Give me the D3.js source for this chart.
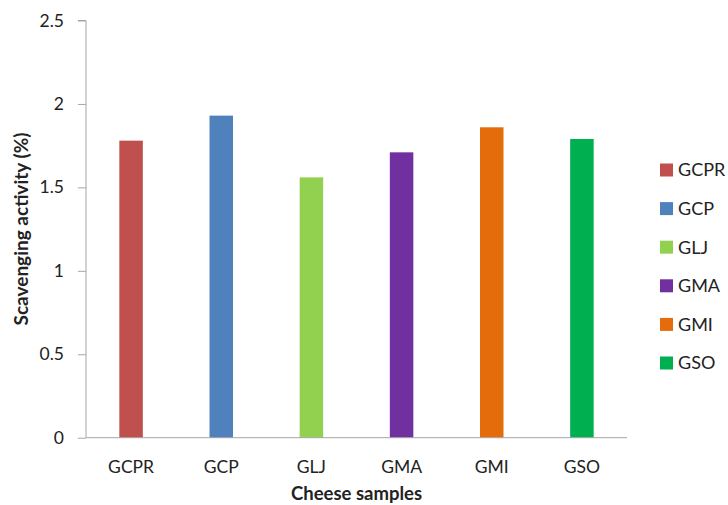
<!DOCTYPE html>
<html><head><meta charset="utf-8">
<script src="https://cdn.jsdelivr.net/npm/d3@7"></script>
<style>body{margin:0;background:#fff}svg{display:block}text{font-family:Lato,"Open Sans",sans-serif;fill:#222}</style>
</head><body><svg id="c" width="728" height="505"></svg>
<script>
const categories = ["GCPR","GCP","GLJ","GMA","GMI","GSO"];
const values = [1.78, 1.93, 1.56, 1.71, 1.86, 1.79];
const colors = ["#C0504D","#4F81BD","#92D050","#7030A0","#E46C0A","#00B050"];
const yTicks = [0, 0.5, 1, 1.5, 2, 2.5];

(function(){
const svg = d3.select("#c");
const mLeft = 86, mRight = 627, mTop = 20.5, mBottom = 437.7;
const x = d3.scaleBand().domain(categories).range([mLeft, mRight]);
const y = d3.scaleLinear().domain([0, 2.5]).range([mBottom, mTop]);
const bw = 23.5;

svg.selectAll("rect.bar").data(values).join("rect")
  .attr("class","bar")
  .attr("x",(d,i)=>x(categories[i]) + x.bandwidth()/2 - bw/2)
  .attr("y",d=>y(d)).attr("width",bw).attr("height",d=>y(0)-y(d))
  .attr("fill",(d,i)=>colors[i]);

const ya = svg.append("g").attr("transform",`translate(${mLeft},0)`)
  .call(d3.axisLeft(y).tickValues(yTicks).tickFormat(d3.format("")).tickSize(8).tickPadding(14));
ya.select(".domain").attr("stroke","#a6a6a6").attr("d",`M-8,${mTop}H0V${mBottom}`);
ya.selectAll(".tick line").attr("stroke","#a6a6a6");
ya.selectAll(".tick text").style("font-size","17.5px").style("font-family","Lato,sans-serif").attr("fill","#222");

const xa = svg.append("g").attr("transform",`translate(0,${mBottom})`)
  .call(d3.axisBottom(x).tickSize(0).tickPadding(0));
xa.select(".domain").attr("stroke","#a6a6a6").attr("d",`M${mLeft},0H${mRight}`);
xa.selectAll(".tick text").attr("y",35).attr("dy",null)
  .style("font-size","17.5px").style("font-family","Lato,sans-serif").attr("fill","#222");

svg.append("text").attr("x",(mLeft+mRight)/2).attr("y",500).attr("text-anchor","middle")
  .style("font-size","18.5px").style("font-weight","bold").text("Cheese samples");
svg.append("text").attr("transform","translate(28,229) rotate(-90)").attr("text-anchor","middle")
  .style("font-size","19px").style("font-weight","bold").text("Scavenging activity (%)");

const lg = svg.append("g");
const ly0 = 170, lstep = 38.6;
categories.forEach((c,i)=>{
  lg.append("rect").attr("x",660).attr("y",ly0+i*lstep-6.5).attr("width",13).attr("height",13).attr("fill",colors[i]);
  lg.append("text").attr("x",678).attr("y",ly0+i*lstep).attr("dy","0.35em")
    .style("font-size","18px").text(c);
});
})();
</script></body></html>
